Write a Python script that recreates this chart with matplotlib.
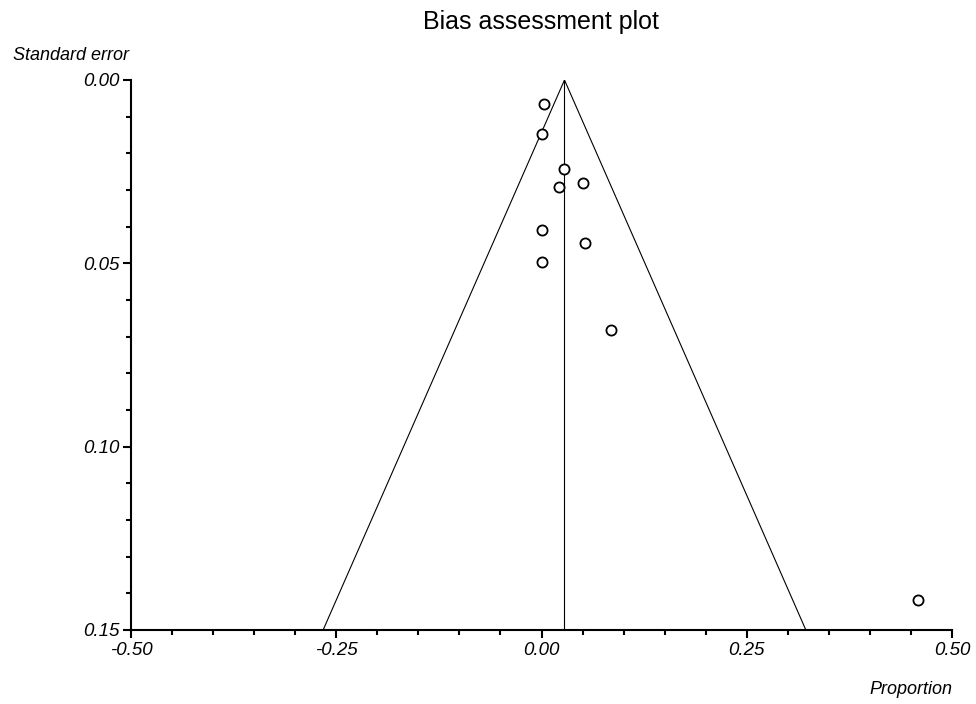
import matplotlib
matplotlib.use("Agg")
import matplotlib.pyplot as plt
import numpy as np
from matplotlib.ticker import MultipleLocator, FormatStrFormatter

# Data
proportion = [0.003, 0.0, 0.028, 0.021, 0.050, 0.0, 0.053, 0.0, 0.085, 0.459]
std_error = [0.0066, 0.0147, 0.0243, 0.0291, 0.0281, 0.0408, 0.0445, 0.0496, 0.0682, 0.1418]
pooled = 0.028
se_max = 0.15
x_ticks = [-0.50, -0.25, 0.00, 0.25, 0.50]
y_ticks = [0.00, 0.05, 0.10, 0.15]

plt.rcParams['font.family'] = ['Liberation Sans', 'DejaVu Sans']

fig = plt.figure(figsize=(9.76, 7.04), dpi=100)
ax = fig.add_axes([131/976, 1-630/704, (952-131)/976, (630-80)/704])

# funnel
ax.plot([pooled - 1.96*se_max, pooled, pooled + 1.96*se_max], [se_max, 0, se_max],
        color='black', lw=0.8)
ax.plot([pooled, pooled], [0, se_max], color='black', lw=0.8)

ax.plot(proportion, std_error, 'o', mfc='white', mec='black', ms=7.3, mew=1.3,
        clip_on=False)

ax.set_xlim(-0.5, 0.5)
ax.set_ylim(0.15, 0.0)
ax.set_xticks(x_ticks)
ax.set_yticks(y_ticks)
ax.xaxis.set_minor_locator(MultipleLocator(0.05))
ax.yaxis.set_minor_locator(MultipleLocator(0.01))
ax.xaxis.set_major_formatter(FormatStrFormatter('%.2f'))
ax.yaxis.set_major_formatter(FormatStrFormatter('%.2f'))

for s in ['top', 'right']:
    ax.spines[s].set_visible(False)
for s in ['left', 'bottom']:
    ax.spines[s].set_linewidth(1.5)

ax.tick_params(which='major', length=6, width=1.5, labelsize=13.5, pad=2.5)
ax.tick_params(which='minor', length=3.8, width=1.5)
for lab in ax.get_xticklabels() + ax.get_yticklabels():
    lab.set_fontstyle('italic')

fig.text(13/976, 1-55/704, 'Standard error', ha='left', va='center',
         fontsize=13, fontstyle='italic')
fig.text(952/976, 1-690/704, 'Proportion', ha='right', va='center',
         fontsize=13, fontstyle='italic')
fig.text(541/976, 1-22/704, 'Bias assessment plot', ha='center', va='center',
         fontsize=18)

fig.savefig('out.png', dpi=100)
